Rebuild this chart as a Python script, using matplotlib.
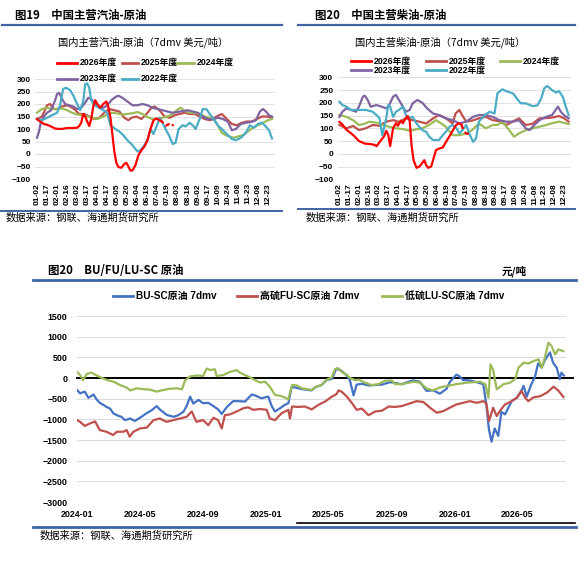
import numpy as np
import pandas as pd
import matplotlib
matplotlib.use('Agg')
import matplotlib.pyplot as plt
import matplotlib.dates as mdates
from matplotlib.lines import Line2D

W, H = 586, 565
CJK = ['Noto Sans CJK SC', 'DejaVu Sans']
NUM = ['Liberation Sans', 'Noto Sans CJK SC', 'DejaVu Sans']
plt.rcParams['font.family'] = NUM

RULE = '#3F64A0'
GRID = '#DDDDDD'

# ---------------- data: top charts (x = position on the day-label axis) ----------------
day_labels = ['01-02', '01-17', '02-01', '02-16', '03-02', '03-17', '04-01', '04-17',
              '05-05', '05-20', '06-04', '06-19', '07-04', '07-19', '08-03', '08-18',
              '09-02', '09-17', '10-09', '10-24', '11-08', '11-23', '12-08', '12-23']
years = ['2026年度', '2025年度', '2024年度', '2023年度', '2022年度']
year_colors = ['#FF0000', '#C0504D', '#9BBB59', '#8064A2', '#4BACC6']

# gasoline - crude
gas26_x = [0, 0.3, 0.7, 1.0, 1.4, 1.8, 2.2, 2.6, 3.0, 3.5, 4.0, 4.2, 4.4, 4.6, 4.8, 5.0, 5.2, 5.4,
           5.6, 5.8, 6.0, 6.3, 6.6, 6.9, 7.1, 7.3, 7.5, 7.7, 7.9, 8.1, 8.4, 8.7, 8.9, 9.1, 9.3, 9.5,
           9.8, 10.1, 10.4, 10.7, 11.0, 11.3, 11.6, 11.9, 12.2]
gas26_y = [140, 130, 120, 117, 110, 102, 100, 101, 104, 104, 105, 112, 125, 160, 150, 130, 112, 140,
           190, 215, 200, 185, 200, 210, 190, 150, 80, 10, -35, -52, -55, -40, -35, -50, -66, -66,
           -45, -5, 15, 30, 55, 100, 135, 142, 135]
gas26_tail_x = [12.2, 12.5, 12.8, 13.1, 13.3, 13.6]
gas26_tail_y = [135, 128, 112, 120, 110, 118]
gas25_x = [0, 0.5, 1.0, 1.3, 1.7, 2.0, 2.5, 3.0, 3.3, 3.7, 4.2, 4.7, 5.2, 5.7, 6.2, 6.7, 7.2, 7.7,
           8.2, 8.7, 9.1, 9.4, 9.9, 10.4, 10.9, 11.4, 11.7, 12.2, 12.7, 13.2, 13.7, 14.2, 14.7, 15.2,
           15.7, 16.2, 16.7, 17.2, 17.9, 18.4, 18.9, 19.4, 19.9, 20.4, 20.9, 21.4, 21.9, 22.4, 22.9, 23.4]
gas25_y = [140, 150, 195, 200, 180, 180, 190, 195, 190, 180, 160, 160, 150, 140, 145, 165, 180, 175,
           170, 145, 135, 145, 150, 140, 160, 185, 190, 175, 150, 145, 155, 160, 165, 160,
           160, 150, 140, 135, 150, 160, 140, 120, 115, 125, 130, 130, 140, 150, 150, 145]
gas24_x = [0, 0.5, 1.0, 1.5, 2.0, 2.5, 3.0, 3.5, 4.0, 4.5, 5.0, 5.5, 6.0, 6.5, 7.0, 7.5, 8.0, 8.5,
           9.0, 9.5, 10.0, 10.5, 11.0, 11.5, 12.0, 12.5, 13.0, 13.5, 14.0, 14.3, 14.7, 15.2, 15.7, 16.2,
           16.7, 17.2, 17.6, 18.0, 18.4, 18.8, 19.2, 19.6, 20.0, 20.5, 21.0, 21.5, 22.0, 22.5, 23.0, 23.4]
gas24_y = [165, 180, 185, 180, 180, 182, 175, 165, 158, 155, 150, 145, 140, 148, 158, 165, 162, 158,
           160, 163, 168, 160, 148, 140, 142, 145, 150, 160, 178, 185, 172, 165, 165, 160,
           150, 145, 140, 115, 85, 75, 70, 65, 70, 75, 90, 105, 115, 125, 135, 140]
gas23_x = [0, 0.2, 0.4, 0.7, 1.0, 1.4, 1.8, 2.0, 2.2, 2.5, 2.8, 3.2, 3.6, 4.0, 4.4, 4.8, 5.1, 5.4,
           5.8, 6.2, 6.6, 7.0, 7.4, 7.8, 8.1, 8.5, 9.0, 9.5, 10.0, 10.5, 11.0, 11.5, 12.0, 12.5, 13.0,
           13.5, 14.0, 14.5, 15.0, 15.5, 16.0, 16.5, 17.0, 17.5, 18.0, 18.5, 19.0, 19.4, 19.8, 20.3,
           20.8, 21.3, 21.8, 22.2, 22.5, 22.8, 23.1, 23.4]
gas23_y = [65, 90, 130, 150, 165, 175, 215, 240, 245, 220, 200, 195, 190, 180, 185, 205, 225, 220,
           200, 185, 185, 195, 215, 228, 233, 225, 210, 195, 195, 200, 195, 185, 180, 175, 170,
           165, 168, 172, 175, 170, 165, 150, 140, 138, 145, 140, 130, 95, 100, 120,
           125, 128, 135, 170, 180, 170, 155, 150]
gas22_x = [0, 0.5, 1.0, 1.5, 2.0, 2.3, 2.6, 2.9, 3.3, 3.6, 4.0, 4.3, 4.6, 4.8, 5.0, 5.2, 5.4, 5.7,
           6.2, 6.6, 7.0, 7.3, 7.8, 8.2, 8.6, 9.0, 9.4, 9.8, 10.0, 10.3, 10.6, 11.0, 11.3, 11.6, 12.0,
           12.2, 12.5, 12.8, 13.2, 13.5, 13.8, 14.1, 14.5, 14.8, 15.2, 15.5, 15.8, 16.2, 16.5, 16.9,
           17.2, 17.6, 18.0, 18.4, 18.9, 19.4, 19.8, 20.3, 20.8, 21.2, 21.6, 22.0, 22.4, 22.8, 23.1, 23.4]
gas22_y = [140, 135, 145, 155, 165, 195, 260, 265, 255, 235, 200, 175, 210, 280, 282, 265, 215, 195,
           185, 175, 165, 115, 100, 90, 75, 55, 40, 20, 10, 15, 30, 55, 100, 80, 120,
           145, 125, 100, 70, 40, 45, 100, 115, 110, 125, 115, 100, 140, 180, 178,
           160, 140, 115, 100, 80, 60, 55, 65, 85, 115, 105, 120, 125, 110, 95, 62]

# diesel - crude
dsl26_x = [0, 0.3, 0.7, 1.2, 1.5, 2.0, 2.6, 3.2, 3.6, 3.8, 4.0, 4.3, 4.6, 4.8, 5.0, 5.2, 5.5, 5.8,
           6.0, 6.3, 6.5, 6.8, 7.0, 7.2, 7.4, 7.6, 7.9, 8.2, 8.5, 8.7, 8.9, 9.1, 9.4, 9.6, 9.9, 10.2,
           10.6, 10.9, 11.3, 11.6, 11.9, 12.2, 12.5]
dsl26_y = [125, 115, 95, 80, 70, 50, 40, 38, 35, 30, 40, 55, 70, 90, 75, 30, 100, 120,
           110, 130, 120, 140, 148, 130, 30, -25, -55, -50, -35, -25, -45, -55, -50, -25, 15, 20,
           25, 45, 70, 90, 110, 120, 115]
dsl26_tail_x = [12.5, 12.8, 13.1, 13.5]
dsl26_tail_y = [115, 85, 78, 85]
dsl25_x = [0, 0.7, 1.4, 2.0, 2.7, 3.4, 4.1, 4.8, 5.5, 6.1, 6.8, 7.5, 8.2, 8.9, 9.6, 10.2, 10.9, 11.6,
           11.9, 12.3, 12.6, 13.0, 13.6, 14.3, 15.0, 15.7, 16.4, 17.1, 17.7, 18.4, 19.1, 19.8, 20.5,
           21.2, 21.8, 22.5, 23.0, 23.5]
dsl25_y = [113, 100, 109, 93, 100, 113, 110, 126, 132, 125, 139, 132, 126, 119, 139, 152, 140, 119,
           158, 172, 150, 126, 130, 139, 145, 132, 128, 113, 125, 139, 113, 118, 139,
           140, 142, 148, 140, 126]
dsl24_x = [0, 0.7, 1.4, 2.0, 2.6, 3.1, 3.8, 4.4, 5.1, 5.8, 6.5, 7.2, 7.9, 8.5, 9.2, 9.9, 10.4, 10.9,
           11.6, 12.3, 13.0, 13.6, 14.3, 15.0, 15.7, 16.2, 16.7, 17.4, 17.9, 18.4, 19.1, 19.8, 20.5,
           21.2, 21.8, 22.5, 23.5]
dsl24_y = [152, 145, 132, 113, 118, 126, 122, 113, 106, 100, 97, 90, 96, 100, 113, 132, 120, 106,
           73, 73, 80, 93, 119, 100, 113, 113, 126, 93, 67, 80, 93, 100, 106,
           113, 120, 126, 117]
dsl23_x = [0, 0.3, 0.7, 1.2, 1.7, 2.0, 2.4, 2.6, 2.9, 3.2, 3.8, 4.3, 4.8, 5.1, 5.5, 5.8, 6.1, 6.5,
           6.8, 7.2, 7.5, 8.0, 8.5, 9.0, 9.6, 10.2, 10.9, 11.6, 12.3, 13.0, 13.7, 14.3, 15.0, 15.7,
           16.4, 17.1, 17.8, 18.4, 19.1, 19.5, 19.8, 20.5, 21.2, 21.8, 22.4, 22.7, 23.0, 23.5]
dsl23_y = [145, 165, 178, 172, 165, 185, 224, 228, 211, 185, 191, 185, 178, 191, 224, 231, 211, 185,
           165, 172, 198, 211, 200, 178, 158, 152, 139, 132, 119, 126, 145, 152, 152, 145,
           132, 126, 126, 132, 100, 93, 106, 132, 145, 152, 185, 165, 152, 139]
dsl22_x = [0, 0.3, 0.7, 1.2, 2.0, 2.7, 3.4, 3.8, 4.1, 4.4, 4.8, 5.0, 5.2, 5.5, 5.8, 6.1, 6.5, 6.8,
           7.2, 7.5, 7.9, 8.2, 8.5, 8.9, 9.2, 9.6, 10.2, 10.6, 10.9, 11.3, 11.6, 12.0, 12.3, 12.6,
           13.0, 13.3, 13.7, 14.0, 14.3, 14.9, 15.4, 15.9, 16.2, 16.7, 17.2, 17.8, 18.3, 18.6, 19.1,
           19.8, 20.3, 20.7, 21.0, 21.3, 21.8, 22.2, 22.5, 22.9, 23.2, 23.5]
dsl22_y = [204, 191, 185, 172, 172, 172, 165, 152, 140, 73, 140, 191, 185, 145, 165, 172, 185, 152,
           140, 145, 119, 105, 93, 86, 67, 54, 54, 73, 86, 106, 113, 100, 80, 93,
           113, 80, 47, 60, 126, 152, 165, 158, 237, 253, 244, 237, 211, 198, 198,
           187, 190, 218, 257, 266, 250, 240, 246, 224, 185, 152]

# ---------------- data: bottom chart (x = days since 2024-01-01) ----------------
bu_day = [0, 6, 15, 22, 32, 38, 44, 51, 57, 64, 70, 77, 86, 93, 103, 112, 122, 135, 145, 154, 161,
          174, 187, 196, 206, 212, 219, 225, 235, 244, 254, 264, 273, 280, 290, 302, 312, 325, 338,
          344, 357, 370, 377, 383, 393, 402, 409, 415, 422, 435, 454, 460, 473, 483, 493, 502, 512,
          522, 528, 535, 541, 551, 564, 577, 590, 606, 615, 628, 644, 651, 663, 676, 689, 702, 715,
          721, 734, 738, 747, 760, 773, 786, 792, 797, 802, 808, 815, 821, 828, 841, 851, 860, 864,
          870, 879, 886, 892, 899, 905, 915, 921, 928, 934, 937, 942]
bu_val = [-290, -370, -330, -480, -400, -520, -600, -650, -700, -740, -850, -900, -940, -1020, -980,
          -1040, -960, -850, -775, -680, -770, -895, -940, -900, -815, -680, -450, -620, -530, -610,
          -600, -680, -760, -870, -700, -560, -560, -570, -400, -420, -490, -450, -690, -810, -730,
          -650, -610, -220, -230, -270, -300, -230, -170, -50, -20, 230, 170, 60, -60, -420, -160,
          -140, -180, -170, -160, -100, -120, -150, -80, -60, -90, -310, -300, -380, -260, -100, 80,
          60, -50, -60, -100, -150, -660, -1250, -1540, -1220, -1400, -820, -880, -560, -475, -300,
          -190, -450, -150, 30, 350, 250, 430, 620, 370, 250, -30, 130, 60]
fu_day = [0, 6, 15, 25, 35, 44, 57, 70, 77, 90, 96, 102, 109, 122, 135, 148, 160, 173, 186, 199, 212,
          222, 231, 244, 254, 264, 273, 280, 286, 296, 309, 322, 331, 341, 354, 367, 373, 383, 396,
          409, 412, 416, 428, 441, 454, 467, 480, 493, 502, 506, 512, 522, 532, 541, 551, 564, 577,
          590, 603, 615, 628, 638, 657, 670, 683, 696, 709, 721, 734, 747, 760, 773, 786, 792, 797,
          805, 812, 818, 828, 838, 851, 860, 867, 873, 883, 896, 909, 922, 931, 941]
fu_val = [-1020, -1060, -1160, -1100, -1050, -1260, -1300, -1380, -1300, -1300, -1260, -1420, -1300,
          -1220, -1200, -1020, -980, -1060, -1020, -980, -940, -810, -1060, -1020, -1140, -960, -1020,
          -1220, -900, -880, -810, -730, -710, -770, -750, -770, -980, -1020, -850, -770, -980, -690,
          -700, -690, -760, -650, -570, -450, -390, -300, -330, -450, -610, -770, -740, -900, -810,
          -790, -690, -700, -680, -640, -560, -580, -720, -840, -800, -720, -640, -600, -560, -600,
          -560, -620, -1040, -720, -920, -800, -640, -580, -475, -315, -475, -560, -470, -440, -355,
          -210, -300, -460]
lu_day = [0, 6, 12, 19, 28, 35, 45, 58, 71, 83, 96, 103, 115, 128, 141, 154, 167, 180, 193, 203, 209,
          219, 232, 244, 251, 257, 267, 270, 283, 296, 309, 315, 325, 334, 344, 354, 364, 373, 383,
          393, 402, 409, 412, 416, 425, 435, 454, 464, 473, 483, 493, 499, 506, 512, 522, 528, 538,
          545, 557, 570, 583, 596, 609, 615, 628, 651, 663, 676, 689, 702, 715, 734, 754, 780, 790,
          796, 800, 805, 812, 825, 838, 848, 854, 864, 873, 883, 893, 899, 905, 912, 918, 925, 931,
          941]
lu_val = [150, 70, -50, 100, 130, 80, 20, -50, -90, -170, -230, -300, -250, -270, -280, -330, -290,
          -260, -250, -275, -60, 40, 60, 50, 230, 195, 210, 50, 70, 150, 190, 130, 70, 20, -50, -110,
          -90, -210, -410, -430, -470, -520, -350, -170, -180, -250, -290, -200, -170, -40, 16, 210,
          234, 150, 73, 0, -50, -40, -110, -170, -150, -65, -60, -145, -150, -90, -110, -250, -300,
          -230, -195, -150, -113, -90, -150, -475, 330, 200, -275, -150, -113, -20, 250, 370, 350, 410,
          450, 250, 490, 855, 775, 570, 690, 650]
bottom_names = ['BU-SC原油 7dmv', '高硫FU-SC原油 7dmv', '低硫LU-SC原油 7dmv']
bottom_colors = ['#4472C4', '#C0504D', '#9BBB59']


fig = plt.figure(figsize=(W / 100, H / 100), dpi=100)


def rect(x0, y0, x1, y1):
    return [x0 / W, 1 - y1 / H, (x1 - x0) / W, (y1 - y0) / H]


def hline(x0, x1, y, color=RULE, lw=1.6):
    fig.add_artist(Line2D([x0 / W, x1 / W], [1 - y / H, 1 - y / H], color=color, lw=lw,
                          transform=fig.transFigure))


def text(x, y, s, size, ha='left', weight='normal', family=CJK):
    fig.text(x / W, 1 - y / H, s, fontsize=size, ha=ha, va='center', weight=weight, family=family)


def legend_item(x, y, color, label, size, length=20):
    hline(x, x + length, y, color=color, lw=2.0)
    text(x + length + 3, y, label, size, weight='bold', family=NUM)


def season_panel(box, series, tail):
    ax = fig.add_axes(rect(*box))
    for xs, ys, c in series:
        ax.plot(xs, ys, color=c, lw=1.6, solid_joinstyle='round')
    ax.plot(tail[0], tail[1], color=year_colors[0], lw=1.6, ls=(0, (2.2, 1.6)))
    ax.set_xlim(-0.2, 23.7)
    ax.set_ylim(-100, 300)
    ax.set_yticks(np.arange(-100, 301, 50))
    ax.set_xticks(range(len(day_labels)))
    ax.set_xticklabels(day_labels, rotation=90)
    ax.tick_params(length=0, labelsize=6, pad=3)
    for t in ax.get_xticklabels() + ax.get_yticklabels():
        t.set_fontweight('bold')
    ax.grid(axis='y', color=GRID, lw=0.6)
    ax.set_axisbelow(True)
    for s in ax.spines.values():
        s.set_visible(False)
    return ax


# ---------------- top left: gasoline ----------------
text(15, 16, '图19　中国主营汽油-原油', 8.2, weight='bold')
hline(2, 282, 25)
text(143, 42, '国内主营汽油-原油（7dmv 美元/吨）', 7.4, ha='center')
season_panel((35, 79, 275, 179),
             [(gas25_x, gas25_y, year_colors[1]), (gas24_x, gas24_y, year_colors[2]),
              (gas23_x, gas23_y, year_colors[3]), (gas22_x, gas22_y, year_colors[4]),
              (gas26_x, gas26_y, year_colors[0])],
             (gas26_tail_x, gas26_tail_y))
for (cx, cy), lab, col in zip([(57, 62.5), (122, 62.5), (174, 62.5), (57, 78.5), (122, 78.5)],
                              years, year_colors):
    legend_item(cx, cy, col, lab, 6.3, length=20 if cx != 122 else 16)
hline(0, 282, 210.7, lw=1.4)
text(6, 218, '数据来源：钢联、海通期货研究所', 7.4)

# ---------------- top right: diesel ----------------
text(315, 16, '图20　中国主营柴油-原油', 8.2, weight='bold')
hline(298, 575, 25)
text(440, 42, '国内主营柴油-原油（7dmv 美元/吨）', 7.4, ha='center')
season_panel((337.5, 77.3, 570.6, 179.3),
             [(dsl25_x, dsl25_y, year_colors[1]), (dsl24_x, dsl24_y, year_colors[2]),
              (dsl23_x, dsl23_y, year_colors[3]), (dsl22_x, dsl22_y, year_colors[4]),
              (dsl26_x, dsl26_y, year_colors[0])],
             (dsl26_tail_x, dsl26_tail_y))
for (cx, cy), lab, col in zip([(351, 61), (426, 61), (500, 61), (351, 70), (426, 70)],
                              years, year_colors):
    legend_item(cx, cy, col, lab, 6.3)
hline(298, 575, 209, lw=1.4)
text(306, 218, '数据来源：钢联、海通期货研究所', 7.4)

# ---------------- bottom: BU/FU/LU - SC ----------------
text(48, 271, '图20　BU/FU/LU-SC 原油', 8.2, weight='bold')
text(527, 271, '元/吨', 7.6, ha='right', weight='bold')
hline(33, 576, 280, lw=2.0)

start = pd.Timestamp('2024-01-01')
ax = fig.add_axes(rect(77, 316, 566, 502))
for days, vals, c in [(bu_day, bu_val, bottom_colors[0]), (fu_day, fu_val, bottom_colors[1]),
                      (lu_day, lu_val, bottom_colors[2])]:
    ax.plot(start + pd.to_timedelta(days, unit='D'), vals, color=c, lw=1.6)
ax.axhline(0, xmin=0, xmax=(573 - 77) / (566 - 77), color='black', lw=1.4, clip_on=False, zorder=1)
ax.set_xlim(start, start + pd.Timedelta(days=946))
ax.set_ylim(-3000, 1500)
ax.set_yticks(np.arange(-3000, 1501, 500))
ax.set_xticks(pd.date_range('2024-01-01', '2026-05-01', freq='4MS'))
ax.xaxis.set_major_formatter(mdates.DateFormatter('%Y-%m'))
ax.tick_params(length=0, labelsize=6.4)
ax.tick_params(axis='y', pad=7)
ax.tick_params(axis='x', pad=6)
for t in ax.get_xticklabels() + ax.get_yticklabels():
    t.set_fontweight('bold')
ax.grid(axis='y', color=GRID, lw=0.8)
ax.set_axisbelow(True)
for s in ax.spines.values():
    s.set_visible(False)

for x0, lab, col in zip([113, 237, 382], bottom_names, bottom_colors):
    legend_item(x0, 296, col, lab, 7.2)

hline(297, 575, 523, color='black', lw=1.2)
hline(33, 576, 527, lw=2.0)
text(40, 536, '数据来源：钢联、海通期货研究所', 7.4)

fig.savefig('out.png', dpi=100)
